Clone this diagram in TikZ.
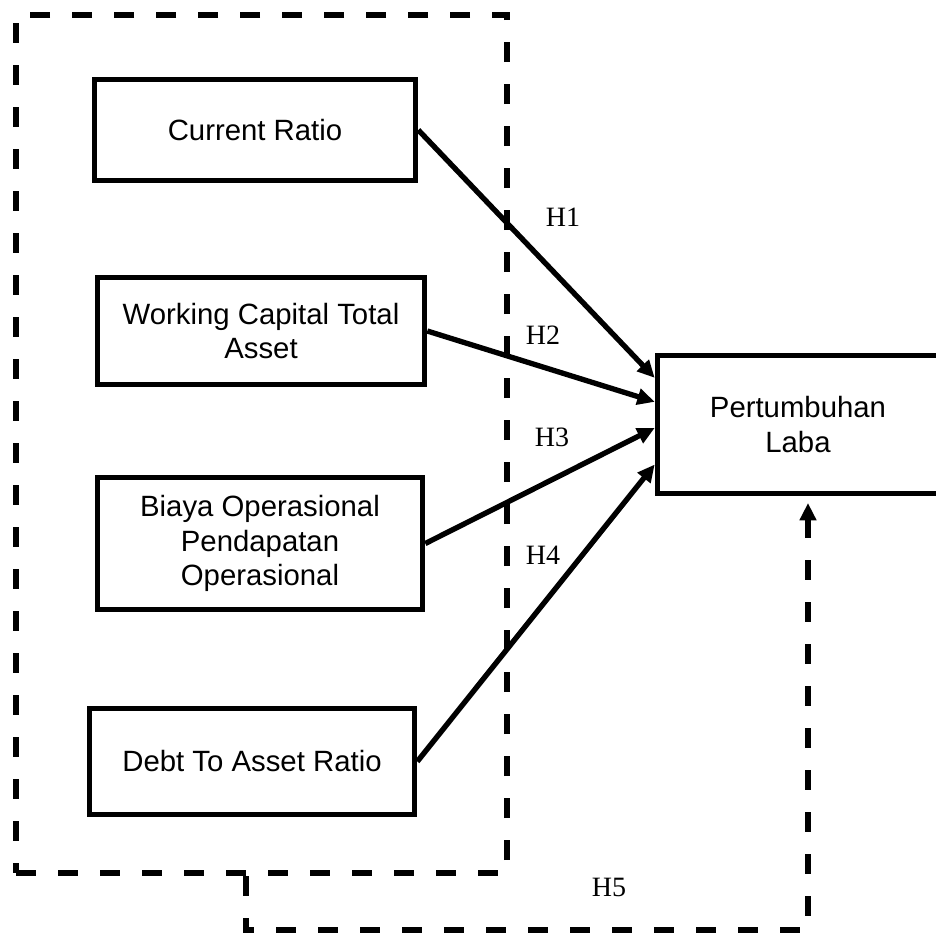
\documentclass[tikz,border=0pt]{standalone}
\usepackage{fontspec}
\setmainfont{Liberation Serif}
\setsansfont{Liberation Sans}
\usetikzlibrary{arrows.meta}

\begin{document}
\begin{tikzpicture}[x=0.75pt,y=-0.75pt,
    var/.style={shape=rectangle,draw=black,line width=4.2pt,align=center,inner sep=0pt,
        font=\sffamily\fontsize{22}{26}\selectfont},
    hyp/.style={font=\rmfamily\fontsize{21}{24}\selectfont},
    link/.style={line width=4pt,-{Triangle[length=13pt,width=12pt]}},
    longdash/.style={line width=4.5pt,dash pattern=on 15pt off 16.5pt}]
    \useasboundingbox (0,0) rectangle (936,933);

    \node[draw=black,longdash,minimum width=368.25pt,minimum height=643.5pt] (X) at (261.5,444) {};

    \node[var,minimum width=240.75pt,minimum height=75.75pt] (CR) at (255,130) {Current Ratio};
    \node[var,minimum width=245.25pt,minimum height=80.25pt] (WCTA) at (261,331) {Working Capital Total\\Asset};
    \node[var,minimum width=243.75pt,minimum height=99pt] (BOPO) at (260,543.5) {Biaya Operasional\\Pendapatan\\Operasional};
    \node[var,minimum width=243.75pt,minimum height=79.5pt] (DAR) at (252,761.5) {Debt To Asset Ratio};
    \node[var,minimum width=210.75pt,minimum height=103.5pt] (PL) at (798,424.5) {Pertumbuhan\\Laba};

    \path[link] (CR.east) edge ([yshift=35pt]PL.west);
    \path[link] (WCTA.east) edge ([yshift=17pt]PL.west);
    \path[link] (BOPO.east) edge ([yshift=-2.6pt]PL.west);
    \path[link] (DAR.east) edge ([yshift=-30pt]PL.west);

    \coordinate (turn) at (808,930);
    \draw[link,longdash] ([xshift=-11.6pt]X.south) |- (turn) -- ([xshift=7.5pt,yshift=-5pt]PL.south);

    \node[hyp] (H1) at (563,217) {H1};
    \node[hyp] (H2) at (543,335) {H2};
    \node[hyp] (H3) at (552,437) {H3};
    \node[hyp] (H4) at (543,555) {H4};
    \node[hyp] (H5) at (609,887) {H5};
\end{tikzpicture}
\end{document}
